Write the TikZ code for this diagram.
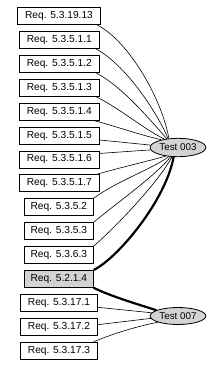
\documentclass[tikz,border=0pt]{standalone}
\usepackage{fontspec}
\setmainfont{Liberation Sans}
\usetikzlibrary{shapes.geometric,calc}
\definecolor{nodegray}{HTML}{D3D3D3}
\begin{document}
\begin{tikzpicture}[x=1pt,y=-1pt,
  req/.style={draw=black, line width=0.8pt, rectangle, minimum height=17pt, inner sep=0pt, font=\fontsize{10.2}{12}\selectfont},
  sel/.style={req, fill=nodegray},
  test/.style={draw=black, line width=0.8pt, ellipse, fill=nodegray, minimum width=55.7pt, inner sep=0pt, font=\fontsize{9.8}{12}\selectfont},
  lnk/.style={line width=0.6pt},
  strong/.style={line width=2.2pt}]
\useasboundingbox (0,0) rectangle (223,367);
% requirement boxes
\node[req, minimum width=83.4pt] (r1) at (59,16) {Req. 5.3.19.13};
\node[req, minimum width=80pt] (r2) at (59.3,39.9) {Req. 5.3.5.1.1};
\node[req, minimum width=80pt] (r3) at (59.3,63.8) {Req. 5.3.5.1.2};
\node[req, minimum width=80pt] (r4) at (59.3,87.7) {Req. 5.3.5.1.3};
\node[req, minimum width=80pt] (r5) at (59.3,111.6) {Req. 5.3.5.1.4};
\node[req, minimum width=80pt] (r6) at (59.3,135.5) {Req. 5.3.5.1.5};
\node[req, minimum width=80pt] (r7) at (59.3,159.4) {Req. 5.3.5.1.6};
\node[req, minimum width=80pt] (r8) at (59.3,183.3) {Req. 5.3.5.1.7};
\node[req, minimum width=69pt] (r9) at (58.8,207.2) {Req. 5.3.5.2};
\node[req, minimum width=69pt] (r10) at (58.8,231.1) {Req. 5.3.5.3};
\node[req, minimum width=69pt] (r11) at (58.8,255) {Req. 5.3.6.3};
\node[sel, minimum width=69pt] (r12) at (58.8,278.9) {Req. 5.2.1.4};
\node[req, minimum width=76.6pt] (r13) at (59,302.8) {Req. 5.3.17.1};
\node[req, minimum width=76.6pt] (r14) at (59,326.7) {Req. 5.3.17.2};
\node[req, minimum width=76.6pt] (r15) at (59,350.6) {Req. 5.3.17.3};
% tests
\node[test, minimum height=18.4pt] (t3) at (178,147.5) {Test 003};
\node[test, minimum height=17pt] (t7) at (178,316) {Test 007};
% edges to Test 003
\begin{scope}[on background layer/.try]
\draw[lnk] ($(r1.south east)+(-4,0)$) .. controls (130,42) and (162,100) .. (t3.135);
\draw[lnk] ($(r2.south east)+(-4,0)$) .. controls (125,64) and (157,112) .. (t3.138);
\draw[lnk] ($(r3.south east)+(-4,0)$) .. controls (122,86) and (152,122) .. (t3.142);
\draw[lnk] ($(r4.south east)+(-4,0)$) .. controls (118,107) and (145,130) .. (t3.148);
\draw[lnk] ($(r5.south east)+(-6,0)$) .. controls (115,126) and (140,135) .. (t3.155);
\draw[lnk] ($(r6.east)+(0,4.5)$) -- (t3.175);
\draw[lnk] ($(r7.east)+(0,-6)$) -- (t3.185);
\draw[lnk] ($(r8.north east)+(-3,0)$) .. controls (118,168) and (145,162) .. (t3.215);
\draw[lnk] (r9.north east) .. controls (115,182) and (150,170) .. (t3.225);
\draw[lnk] (r10.north east) .. controls (118,202) and (155,176) .. (t3.232);
\draw[lnk] (r11.north east) .. controls (118,225) and (160,180) .. (t3.237);
\draw[strong] (r12.north east) .. controls (118,258) and (166,200) .. (t3.245);
% edges to Test 007
\draw[strong] (r12.south east) .. controls (110,296) and (140,305) .. (t7.165);
\draw[lnk] ($(r13.east)+(0,4.5)$) -- (t7.173);
\draw[lnk] ($(r14.east)+(0,-2)$) -- (t7.185);
\draw[lnk] ($(r15.north east)+(-4,0)$) .. controls (115,333) and (135,327) .. (t7.197);
\end{scope}
\end{tikzpicture}
\end{document}
